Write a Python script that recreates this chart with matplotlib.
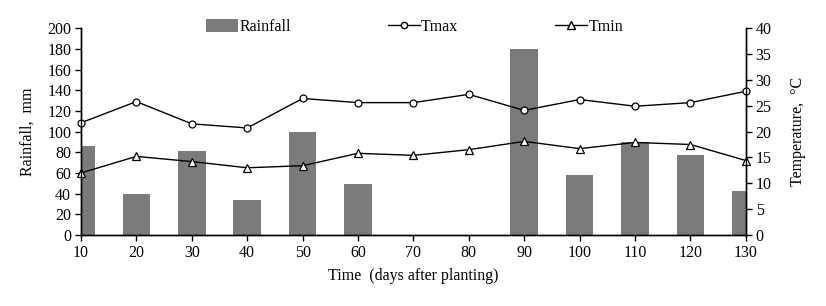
import matplotlib.pyplot as plt
from matplotlib.patches import Patch
from matplotlib.lines import Line2D

plt.rcParams['font.family'] = ['Liberation Serif', 'DejaVu Serif']
plt.rcParams['font.size'] = 11.5

days = [10, 20, 30, 40, 50, 60, 70, 80, 90, 100, 110, 120, 130]
rainfall = [86, 40, 81, 34, 100, 49, 0, 0, 180, 58, 90, 77, 43]
tmax = [21.7, 25.8, 21.5, 20.7, 26.4, 25.6, 25.6, 27.2, 24.1, 26.2, 24.9, 25.6, 27.8]
tmin = [12.0, 15.2, 14.2, 13.0, 13.4, 15.8, 15.4, 16.5, 18.1, 16.7, 17.9, 17.5, 14.4]

fig = plt.figure(figsize=(8.26, 3.06), dpi=100)
ax = fig.add_axes([0.098, 0.232, 0.805, 0.676])
ax2 = ax.twinx()

ax.bar(days, rainfall, width=5, color='#7b7b7b', zorder=1)
ax.set_xlim(10, 130)
ax.set_ylim(0, 200)
ax.set_xticks(days)
ax.set_yticks(range(0, 201, 20))
ax.set_ylabel('Rainfall,  mm', labelpad=8)
ax.set_xlabel('Time  (days after planting)', labelpad=5)

ax2.plot(days, tmax, color='black', lw=1, marker='o', ms=5,
         mfc='white', mec='black', mew=0.9, clip_on=False)
ax2.plot(days, tmin, color='black', lw=1, marker='^', ms=6,
         mfc='white', mec='black', mew=0.9, clip_on=False)
ax2.set_ylim(0, 40)
ax2.set_yticks(range(0, 41, 5))
ax2.set_ylabel('Temperature,  °C', labelpad=13)

for a in (ax, ax2):
    a.spines['top'].set_visible(False)
    for s in a.spines.values():
        s.set_linewidth(1)
    a.tick_params(direction='out', length=4, width=1, pad=3)

handles = [
    Patch(facecolor='#7b7b7b'),
    Line2D([], [], color='black', lw=1, marker='o', ms=4.5, mfc='white', mec='black'),
    Line2D([], [], color='black', lw=1, marker='^', ms=5.5, mfc='white', mec='black'),
]
fig.legend(handles, ['Rainfall', 'Tmax', 'Tmin'], loc='center',
           bbox_to_anchor=(0.502, 0.912), ncol=3, frameon=False,
           handlelength=2.0, handletextpad=0.1, columnspacing=6.05,
           borderpad=0, handleheight=0.9)

fig.savefig('out.png', dpi=100)
